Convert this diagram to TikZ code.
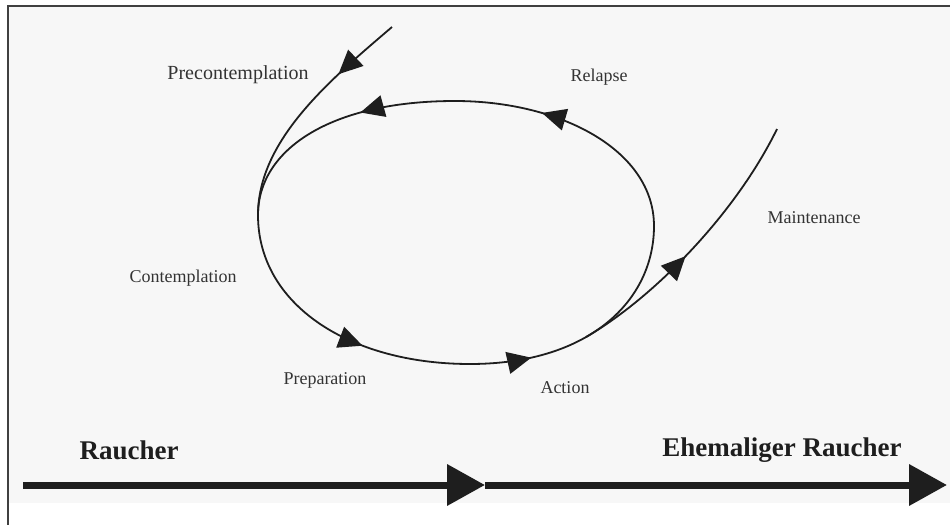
\documentclass[tikz,border=0pt]{standalone}
\usepackage{fontspec}
\setmainfont{Liberation Serif}
\usetikzlibrary{arrows.meta,decorations.markings}
\definecolor{paper}{HTML}{F7F7F7}
\definecolor{ink}{HTML}{1E1E1E}
\definecolor{labelgray}{HTML}{333333}
\tikzset{
stage/.style={font=\fontsize{9}{11}\selectfont, text=labelgray, inner sep=0pt},
group/.style={font=\bfseries\fontsize{13.5}{16}\selectfont, text=ink, inner sep=0pt},
cycleline/.style={draw=ink, line width=0.9pt},
tip at/.style={postaction={decorate},
  decoration={markings, mark=at position #1 with {\arrow{Triangle[length=12pt,width=11pt]}}}},
timeline/.style={draw=ink, line width=3.5pt, -{Triangle[length=19pt,width=20pt]}}
}

\begin{document}
\begin{tikzpicture}[x=0.5pt,y=-0.5pt]
\useasboundingbox (0,0) rectangle (950,525);
% the frame
\fill[paper] (8,6) rectangle (950,503);
\draw[ink!85, line width=1pt] (8,525) -- (8,6) -- (950,6);
% the stages
\foreach \name/\where/\txt in {relapse/{599,77}/Relapse,
    maint/{814,218}/Maintenance, contem/{183,278}/Contemplation,
    prep/{325,380}/Preparation, action/{565,388}/Action}
{
  \node[stage] (\name) at (\where) {\txt};
}
\node[stage, font=\fontsize{10}{12}\selectfont] (precon) at (238,75) {Precontemplation};
\node[group] (smoker) at (129,450) {Raucher};
\node[group] (exsmoker) at (782,450) {Ehemaliger Raucher};
% the loop
\coordinate (enter) at (392,27);
\coordinate (left) at (258,215);
\coordinate (bottom) at (470,364);
\coordinate (right) at (654,226);
\coordinate (top) at (455,101);
\coordinate (split) at (586,337);
\coordinate (leave) at (777,129);
\draw[cycleline, tip at=0.3] (enter) .. controls (330,80) and (258,140) .. (left);
\draw[cycleline, tip at=0.62] (left) .. controls (258,305) and (350,364) .. (bottom);
\draw[cycleline, tip at=0.24] (bottom) .. controls (590,364) and (654,300) .. (right);
\draw[cycleline, tip at=0.66] (right) .. controls (654,150) and (560,101) .. (top);
\draw[cycleline, tip at=0.38] (top) .. controls (330,101) and (258,150) .. (left);
\draw[cycleline, tip at=0.45] (split) .. controls (652,299) and (735,215) .. (leave);
% the time line
\coordinate (start) at (23,485);
\coordinate (middle) at (485,485);
\coordinate (stop) at (947,485);
\draw[timeline] (start) -- (middle);
\draw[timeline] (middle) -- (stop);
\end{tikzpicture}
\end{document}
